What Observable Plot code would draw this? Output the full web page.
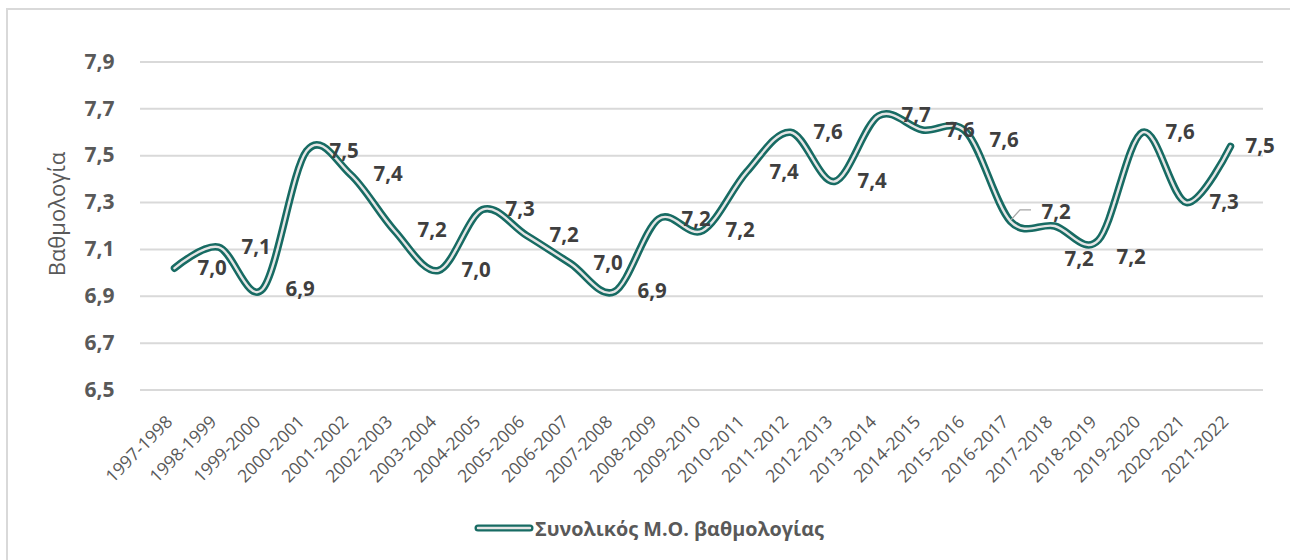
<!DOCTYPE html>
<html>
<head>
<meta charset="utf-8">
<script src="https://cdn.jsdelivr.net/npm/d3@7"></script>
<script src="https://cdn.jsdelivr.net/npm/@observablehq/plot@0.6"></script>
<style>
  html, body { margin: 0; padding: 0; background: #ffffff; }
  #wrap { position: relative; width: 1290px; height: 560px; overflow: hidden; font-family: "Open Sans", "Noto Sans", sans-serif; }
  #frame { position: absolute; left: 6px; top: 8px; width: 1300px; height: 600px; border-top: 2px solid #d9d9d9; border-left: 2px solid #d9d9d9; }
  #chart { position: absolute; left: 0; top: 0; }
  #legend { position: absolute; left: 474px; top: 512px; height: 32px; display: flex; align-items: center; white-space: nowrap; }
  #legend span { font-family: "Open Sans", "Noto Sans", sans-serif; font-weight: 700; font-size: 19.8px; color: #595959; margin-left: 1px; }
</style>
</head>
<body>
<div id="wrap">
  <div id="frame"></div>
  <div id="chart"></div>
  <div id="legend"></div>
</div>
<script>
// ---- data ----
const categories = ["1997-1998","1998-1999","1999-2000","2000-2001","2001-2002","2002-2003","2003-2004","2004-2005","2005-2006","2006-2007","2007-2008","2008-2009","2009-2010","2010-2011","2011-2012","2012-2013","2013-2014","2014-2015","2015-2016","2016-2017","2017-2018","2018-2019","2019-2020","2020-2021","2021-2022"];
const values = [7.02, 7.11, 6.93, 7.52, 7.42, 7.18, 7.01, 7.27, 7.16, 7.04, 6.92, 7.23, 7.18, 7.43, 7.60, 7.39, 7.67, 7.61, 7.60, 7.22, 7.20, 7.14, 7.60, 7.30, 7.54];
const valueLabels = ["7,0","7,1","6,9","7,5","7,4","7,2","7,0","7,3","7,2","7,0","6,9","7,2","7,2","7,4","7,6","7,4","7,7","7,6","7,6","7,2","7,2","7,2","7,6","7,3","7,5"];
const yTicks = [6.5, 6.7, 6.9, 7.1, 7.3, 7.5, 7.7, 7.9];
const yTitle = "Βαθμολογία";
const seriesName = "Συνολικός Μ.Ο. βαθμολογίας";

const data = categories.map((c, i) => ({cat: c, value: values[i], label: valueLabels[i], i}));

// ---- styling ----
const TEAL = "#176b63";
const INNER = "#e6e6e6";
const labelFont = {fontSize: 20.5, fontWeight: "bold", fill: "#3f3f3f", fontFamily: "Open Sans, Noto Sans, sans-serif"};

// label nudges (layout only)
const nudges = {18: [23, 8], 19: [31, -9], 20: [10, 33], 21: [18, 17], 24: [15, 0]};
const defaultNudge = [23, 0];
const groups = d3.groups(data, d => (nudges[d.i] || defaultNudge).join(","));

const leaderMark = (index, scales) => {
  const g = d3.create("svg:g");
  const d = data[19];
  const px = scales.x(d.cat), py = scales.y(d.value);
  g.append("path")
    .attr("d", d3.line()([[px + 1, py - 1], [px + 10, py - 11], [px + 21, py - 11]]))
    .attr("fill", "none").attr("stroke", "#a6a6a6").attr("stroke-width", 1.3);
  return g.node();
};

const plot = Plot.plot({
  width: 1290,
  height: 500,
  marginTop: 61.5,
  marginBottom: 110.5,
  marginLeft: 140,
  marginRight: 27,
  style: {fontFamily: "Open Sans, Noto Sans, sans-serif", background: "transparent", overflow: "visible"},
  x: {type: "point", domain: categories, padding: 0.5, axis: null},
  y: {domain: [6.5, 7.9], axis: null},
  marks: [
    Plot.gridY(yTicks, {stroke: "#d9d9d9", strokeWidth: 2, strokeOpacity: 1}),
    Plot.axisY(yTicks, {
      tickSize: 0, tickPadding: 26, fontSize: 21, fontWeight: "bold", fill: "#595959",
      tickFormat: d => d3.format(".1f")(d).replace(".", ","), label: null
    }),
    Plot.text([yTitle], {frameAnchor: "left", rotate: -90, textAnchor: "middle", lineAnchor: "middle", dx: -83, dy: -12, fontSize: 22, fill: "#595959"}),
    Plot.text(categories, {x: d => d, frameAnchor: "bottom", rotate: -45, textAnchor: "end", lineAnchor: "middle", dx: -5, dy: 29, fontSize: 17.5, fill: "#595959"}),
    Plot.line(data, {x: "cat", y: "value", curve: "cardinal", stroke: "#000", strokeOpacity: 0.4, strokeWidth: 8, dx: 2, dy: 3.5, ariaLabel: "shadow"}),
    Plot.line(data, {x: "cat", y: "value", curve: "cardinal", stroke: TEAL, strokeWidth: 7.5, strokeLinecap: "round", strokeLinejoin: "round"}),
    Plot.line(data, {x: "cat", y: "value", curve: "cardinal", stroke: INNER, strokeWidth: 2.4, strokeLinecap: "round", strokeLinejoin: "round"}),
    leaderMark,
    ...groups.map(([key, rows]) => {
      const [dx, dy] = key.split(",").map(Number);
      return Plot.text(rows, {x: "cat", y: "value", text: "label", textAnchor: "start", lineAnchor: "middle", dx, dy, ...labelFont});
    })
  ]
});

// soft shadow filter
const svg = d3.select(plot);
const defs = svg.insert("defs", ":first-child");
defs.append("filter").attr("id", "softShadow").attr("x", "-5%").attr("y", "-20%").attr("width", "110%").attr("height", "140%")
  .append("feGaussianBlur").attr("stdDeviation", 2.2);
let shadowG = plot.querySelector('g[aria-label="shadow"]');
if (!shadowG) shadowG = plot.querySelectorAll('g[aria-label="line"]')[0];
if (shadowG) shadowG.setAttribute("filter", "url(#softShadow)");

document.getElementById("chart").appendChild(plot);

// legend
const legend = d3.select("#legend");
const sw = legend.append("svg").attr("width", 60).attr("height", 14);
sw.append("line").attr("x1", 4).attr("x2", 56).attr("y1", 7).attr("y2", 7).attr("stroke", TEAL).attr("stroke-width", 7).attr("stroke-linecap", "round");
sw.append("line").attr("x1", 4).attr("x2", 56).attr("y1", 7).attr("y2", 7).attr("stroke", INNER).attr("stroke-width", 2.4).attr("stroke-linecap", "round");
legend.append("span").text(seriesName);
</script>
</body>
</html>
